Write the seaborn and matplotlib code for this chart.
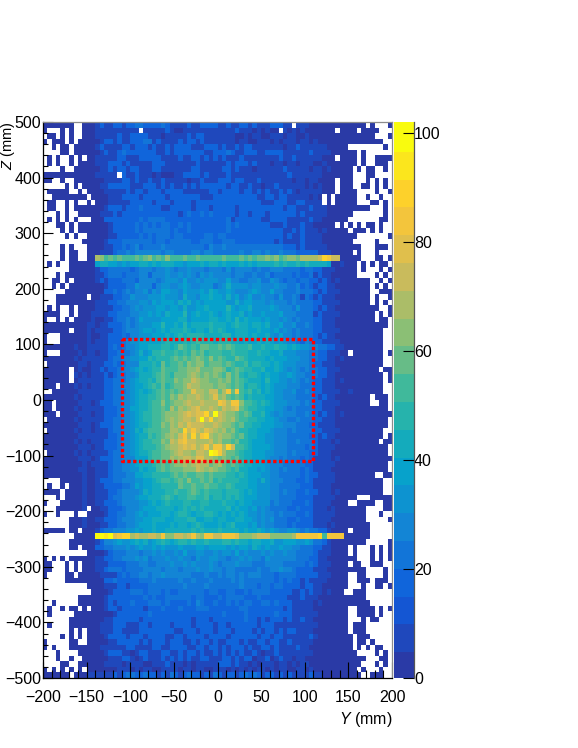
import numpy as np
import matplotlib
matplotlib.use("Agg")
import matplotlib.pyplot as plt
from matplotlib.colors import ListedColormap, to_hex
import seaborn as sns

# Each row = one Z bin (top z=500 down), each char = one Y bin: '.' empty, 0-9,a-j reading of the cell
ROWS = [
"0000000..0 0012112212 2332222321 1112112222 1121122121 1122211.11 1000000000 0000.0...0",
"0...0.0..0 0011111111 11.1111121 0011111111 1111211101 0100.10101 0000000.00 00.0000...",
".00.0.0..0 0011111211 2222111011 1112122111 1111001011 0011101100 1000000000 000000...0",
"0.000.0.00 0001221211 2223312111 1212212111 1111011001 1101011101 1010000000 00000000..",
"..0.00.000 0012111122 1222121121 2222111222 1211212211 1111101121 1111100000 ........0.",
"....00.000 0001211232 2222221121 2222222112 2232112221 1222211111 1211110000 00.0......",
".0.0..0.0. 0011111221 1122222111 1211221212 1211121111 1111211211 1111000.00 00.0..0000",
".0.0..0.00 0011122212 1111122211 1111121111 1121222121 1101101101 1100100000 00.0..000.",
"....0..000 0001121221 2211122111 1111221111 1221211101 1111121111 1011010000 0.0.00..0.",
"0000000000 0011111.21 1211101000 1122221211 1121111111 1111112111 1111000000 0...00....",
"00..0..000 0000111122 1211211211 1110112111 2221221112 1111111011 0110000.00 0...0.0.0.",
".....0.0.0 0001122222 1112221212 1121212222 2212211211 0112111111 0101000.00 0..00.0.0.",
".00000..0. 0000111112 1221222122 2211111122 1222212212 1211212101 1111000.00 00....0..0",
"..00000000 .000011122 2212222212 2222221112 2222222221 1221221111 1010.0.000 00..0..0..",
".00..0.0.. 0.00011111 2222212221 2222122222 2222222222 1112221122 1111.0.000 00...00.0.",
".00..0.000 0000122212 2232222112 2222122212 2222122222 2222212211 1211100000 00000...0.",
"...0.0..00 0001112122 2222222222 2123223232 2222122122 2122222212 1111100000 0.......0.",
".0.0.0.0.. .000222222 2232333322 2222222222 2231222222 1122221111 1211000000 .......00.",
"...00.0.00 0000012222 2323232332 2323222222 2232322222 2211121112 1100000.0. 0.0.00.0..",
"....0.0.00 0000012222 2323333332 3223222222 2232222222 2222211212 1110100000 .000.0.0..",
".....0.0.. 0000011222 2232323332 3322222332 3322222222 2222212112 1111000000 00.......0",
"......... 0000012223 3333332332 3333322333 2233322222 2222121111 2111100000 00.....0..",
"....0.0... 0000112232 3423333433 3333333243 3433333333 3333322212 1111100000 000...000.",
"....0.00.. 0001112334 3444444344 3333443443 3333343344 3433433322 2221110000 0.0...0...",
"....0.00.. 00cb9a9a99 9a9ab9a9b9 99a99a9999 9a999a9a9a abab9abbac cccdgfdd00 000...00.0",
".0.0..0000 0067766565 6677676777 6656667677 6766676767 7778787787 8777760010 00.0.0.00.",
"......0000 0012233333 2344434454 3445444344 4353444434 3344433332 3322111000 00.0...0.0",
"...0.00000 0011233323 3344244454 4545435454 4443443343 3423333232 2312110000 00....0.0.",
"..00.0.000 0012122233 3244443455 5464454555 4464433445 3354323323 3221210100 00000..0.0",
"..0.0.0000 0000122223 3544424554 4565445553 4575555455 4445443342 3212211000 00000.0.0.",
".....00000 0000223234 3445354665 5465556576 5565444565 4464433343 3321211100 00000..000",
"...0000000 .001112233 5444555655 5475546676 6575645644 5443533431 3212111000 00000.0..0",
"...0000000 0011122334 4455465666 5767565666 6655756655 5454443433 3322111100 00000.0.0.",
".0.0..0.00 0011112233 4545556656 6575566766 6686566755 5565444353 3321211000 0000000..0",
"0000..0.00 0111122333 4455656576 6685676676 5676675655 6555644433 3312111100 000000.0.0",
"0..0.0.000 0100112334 3465555666 6775666677 6676867666 5655454343 3322111000 000000.00.",
"0000000000 1101122234 3455566866 7686777787 7767877677 6755644533 4322111000 000000000.",
"000000.000 1011112234 4456656767 7787677687 8766777667 6656454343 3322111100 00000000..",
"0...000000 1001122232 4455566676 7878888777 7886777676 6754644343 3321211000 00000000..",
"0...000000 1011122234 5566666787 7787898887 8887767667 6765654432 4322111100 00000000..",
"0000000100 1111123234 4566777887 8a9898aa99 a9a9888977 8778776765 5443322110 00000000..",
"0...000010 1101122333 4575688988 9898a9a899 9889888778 7766755544 4332211100 .0000000.0",
"0000000101 1111123344 5566878889 a9a9aba9b9 a988a98777 7676665554 4332211010 00000000..",
".000000011 0111223234 4477787a89 9a9babb9aa a9a9889788 7767655544 4322111000 00000000..",
"000000.010 0112122344 5676788a99 9aabbcaaab ba89a98877 8667654543 4332211100 0000000.00",
"000000.101 0111212334 4577789a98 aaabcbabab a9b9a87887 6766556544 3332211000 00000000.0",
"000000.011 1111223334 5677879a99 babbdcbbaa bab9a98777 6866554543 4322111010 00000000.0",
"000.000101 0111223344 5667898a89 aabdccbbba bba9a97887 6765554443 3322111000 00000000..",
"..00000011 1111223334 5676789a9a 9abbeccbdd acfaf98978 6765544533 4322111100 10000000..",
"0000000101 1111223344 5677889a9b acbccdcbce bca9a97877 7665544433 3321211000 00000.000.",
"00.0000011 1012223344 5677899b9a bbcdccdccc fecffb9987 8765554443 4322111100 00000..00.",
"00.0000101 1111222344 6677899a9c acbcdeccdc bdcdea9887 7665543433 3322111000 000000000.",
"000.000011 1011222344 5678899abb bcdedeegci dcbba9a977 8654544433 4321211010 0000000000",
".000000101 1111223344 5678899abc bcddcejdgc dcbca99887 7665443343 3322111000 000000000.",
"0000000011 1012223344 5677899bac bdcedddccd cbba9a8877 6665544433 3221111000 000000000.",
".000000101 1011123344 5768999aac cbgdfdcedc bcab988776 6654443433 3322111100 00000000..",
"0000000011 1111122344 5677989abc bdfcgcfgcb cbba9a8776 6554443333 3221211000 00000000.0",
"0000000101 0111222344 5678899bad cefddcccdb caa9a88766 6554443343 3321110100 0000000.00",
"0000000011 1011222344 5678889abc cdedecdfcf fcgd998766 6654443333 2321111000 000000000.",
".000000101 0111123344 5677899aab cdccbddcih fcaa987766 6554443433 3221110000 000000000.",
"0000000011 1012223344 4666899aac bcddceeccb aba9a87766 6544343332 3211110100 0000000000",
"0000000001 0111123344 5677789a9a bbcbcdccab ca9a987766 6544433333 2211111000 000000000.",
"0000000011 0011123344 5576779a9a aabbbdcbcb aa98977665 6544343332 3211110000 000000000.",
"0000000001 0011123334 4667788889 a9a99aa9a9 9988787666 5544333332 3221111000 000000..00",
"....000001 0012223344 4556678998 9a9b99a9a8 9888877665 7544433322 3211111000 00000000..",
".0..0.0001 0011222233 4656677888 8a99a99a99 8898777665 5544333332 2211110000 00000000..",
"0000.00001 0011122344 4457677788 9889a98988 8788876765 5544343322 3221110100 00000000..",
"...0.00001 0011123344 4566777898 7889988978 8787876665 5544333322 2211111000 00...00000",
"0...000001 0011222344 4455676787 7788778877 7877676655 5534333222 3211110000 ..0000..00",
"...0000001 .001122234 4456667777 6787878777 7786766564 5433332232 2211101000 0000....00",
"0..0...0.. 0000122334 4565666776 7887677887 6767676554 5443433322 3211111000 0000...0..",
"......0001 0011222344 4556677766 7778866776 7766776654 5453332232 2211110000 0000.....0",
"......0001 0001122334 4566676667 6776787666 7678666564 5443332322 2211101000 00000.....",
"00000.00.0 0012334445 5656676677 7777878777 8777767667 6565445543 4332210000 .0000.....",
".......000 00jjhjefgg cdccddcfbb ddcdfcbffd dfffebbbcd ddbbbbbcff fffg9ffff0 00000.....",
"......0000 0012445655 6767567876 7887877877 7887877677 6675566655 6533210000 0000.....0",
"......00.0 0022334445 4565565655 5655566566 6656566576 5655655443 3322110000 .0...0.0.0",
".......... 0000123334 4434454544 5464455445 4554645444 5454454433 3321110000 .0...0.0.0",
"0.0.0.0000 0011223344 4545344454 4544354455 4434454544 3544444433 3221100000 00...0.0.0",
"00...0.0.0 0011122223 3344334445 4454544454 3444544433 3444433333 2321110000 .00..000..",
"00...0.0.0 0011233323 3334444344 4344454454 4344333334 3344544322 2211100000 0000....0.",
"0....00.00 0001111232 3344344544 4444333433 4344343444 3332333322 2221110000 ..00....0.",
".....00000 0000223222 2233343333 3433433343 3334343333 3332323221 2111100000 ..000.000.",
".......... 0000111221 2222333333 3343333433 3333343332 3323322221 2211000000 ...0..00.0",
".......... .000012222 3332333232 2333333233 2233223233 3322222112 121101000. .000......",
"........00 0000122222 2223232233 3333233222 3233332223 2222221112 1110000000 0000......",
"..0.....00 0000121222 3222333232 2223243223 2232323322 3323222111 1101000000 00000.....",
".0..0.00.0 .000122122 2221222322 2322233322 2222233222 2222212111 1100000000 ..0000.0.0",
".0.....000 0000001222 2222322222 2222222222 2322223222 2223222111 1110000000 ..0000.0..",
"......0000 0000112222 2212222222 2222122212 2222223221 2122212112 1100000000 ...0.00...",
".0....0000 0001112221 1122122221 2222122221 2212222221 2221111111 1110000000 .000......",
"......0.0. 0001112211 1122222222 1122212221 2221222212 1221212211 1100000000 .000......",
"....0.0.0. 0000122221 2221222211 2212222122 2212222221 2212211111 1210000000 0.000.....",
"0.....00.. 0000011222 2212122212 2211212212 1122212112 2122112111 1100000000 0.00.0....",
"0.0...0000 0001111112 2111122112 2221122122 1212221211 2212111121 1000000000 0.0.0.00..",
"...0....00 0000122211 0122111221 1212212112 1212121121 0112111111 1100000000 00....0.0.",
"...0..0..0 0000011122 1012111212 1212112211 1221212201 1201211011 0000000000 0000...00.",
"....00..00 0000111101 1110011121 1101011111 2221211010 1110110101 1000000000 000...0.0.",
"0.0.0.0.0. 0000000111 0101100111 1011011001 1101010101 1010110011 0100000000 00.0...0..",
"000000.000 1111112123 3223221213 2123221213 2122123232 1221212111 1211000000 000..000..",
]

# calibration of the reading above against the colour bar: char -> colour band
READING = list("0123456789abcdefghij")
BAND = [0, 1, 3, 4, 5, 6, 7, 8, 9, 10, 11, 12, 13, 14, 15, 16, 17, 18, 19, 19]

TICKS_Y = [-200, -150, -100, -50, 0, 50, 100, 150, 200]
TICKS_Z = [500, 400, 300, 200, 100, 0, -100, -200, -300, -400, -500]
TICKS_C = [0, 20, 40, 60, 80, 100]
BOX_Y = [-110, 110, 110, -110, -110]
BOX_Z = [110, 110, -110, -110, 110]
BIRD = ["#2a3aa6", "#0f5cdd", "#1481d6", "#06a4ca", "#2eb7a4", "#87bf77", "#d1bb59", "#fec832", "#f9fb0e"]
VMAX = 102.0
NCOL, NROW, NLEV = 80, 100, 20

plt.rcParams["font.family"] = ["Liberation Sans", "DejaVu Sans"]
plt.rcParams["mathtext.fontset"] = "custom"
plt.rcParams["mathtext.it"] = "Liberation Sans:italic"
plt.rcParams["mathtext.rm"] = "Liberation Sans"

grid = np.full((NROW, NCOL), np.nan)
for r, s in enumerate(ROWS[:NROW]):
    s = s.replace(" ", "").ljust(NCOL, ".")[:NCOL]
    for c, ch in enumerate(s):
        if ch != ".":
            grid[r, c] = (BAND[READING.index(ch)] + 0.5) * VMAX / NLEV

ramp = matplotlib.colors.LinearSegmentedColormap.from_list("bird", BIRD)
cmap = ListedColormap([to_hex(ramp(i / (NLEV - 1))) for i in range(NLEV)])

W, H = 578, 748
fig = plt.figure(figsize=(W / 100, H / 100), dpi=100)
ax = fig.add_axes([43 / W, 1 - 678 / H, 349 / W, 556 / H])
cax = fig.add_axes([394 / W, 1 - 678 / H, 20 / W, 556 / H])

sns.heatmap(grid, ax=ax, cbar_ax=cax, cmap=cmap, vmin=0, vmax=VMAX, mask=np.isnan(grid),
            xticklabels=False, yticklabels=False, square=False)

to_x = lambda v: (np.asarray(v, float) + 200) / 400 * NCOL
to_y = lambda v: (500 - np.asarray(v, float)) / 1000 * NROW

ax.plot(to_x(BOX_Y), to_y(BOX_Z), color="#ff0000", lw=2.4, ls=(0, (1.0, 0.75)), solid_capstyle="butt")

ax.set_xticks(to_x(TICKS_Y))
ax.set_xticklabels([str(v).replace("-", "\u2212") for v in TICKS_Y], fontsize=11.5)
ax.set_xticks(to_x(np.arange(-200, 201, 10)), minor=True)
ax.set_yticks(to_y(TICKS_Z))
ax.set_yticklabels([str(v).replace("-", "\u2212") for v in TICKS_Z], fontsize=11.5, rotation=0)
ax.set_yticks(to_y(np.arange(-500, 501, 20)), minor=True)
ax.tick_params(axis="x", which="major", direction="in", length=11.5, width=0.8, pad=9, color="black", bottom=True)
ax.tick_params(axis="x", which="minor", direction="in", length=5.8, width=0.8, bottom=True)
ax.tick_params(axis="y", which="major", direction="in", length=7.5, width=0.8, pad=1.5, color="black", left=True)
ax.tick_params(axis="y", which="minor", direction="in", length=3.8, width=0.8, left=True)

for side in ("left", "bottom"):
    ax.spines[side].set_visible(True)
    ax.spines[side].set_linewidth(0.9)
    ax.spines[side].set_color("black")
for side in ("top", "right"):
    ax.spines[side].set_visible(True)
    ax.spines[side].set_linewidth(0.9)
    ax.spines[side].set_color("#8c8c8c")

ax.set_xlabel("$Y$ (mm)", fontsize=11.5, loc="right", labelpad=3)
ax.set_ylabel("$Z$ (mm)", fontsize=10.5, loc="top")
ax.yaxis.set_label_coords(-0.075, 1.0)

cb = ax.collections[0].colorbar
cb.outline.set_visible(False)
cb.solids.set_edgecolor("face")
cb.set_ticks(TICKS_C)
cb.set_ticklabels([str(v) for v in TICKS_C], fontsize=11.5)
cax.tick_params(axis="y", direction="in", length=8, width=0.8, pad=0, color="black", right=True)
cax.spines["right"].set_visible(True)
cax.spines["right"].set_linewidth(0.9)
cax.spines["right"].set_color("#555555")

fig.savefig("out.png", dpi=100)
